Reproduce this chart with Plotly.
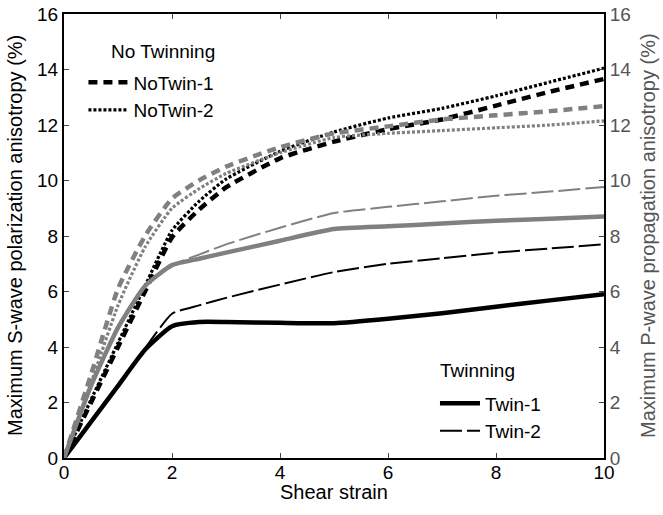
import plotly.graph_objects as go

strain = [0, 0.5, 1, 1.5, 2, 2.5, 3, 4, 5, 6, 7, 8, 9, 10]

# S-wave (left axis, black)
notwin1_s = [0, 2.0, 4.0, 6.0, 7.95, 8.95, 9.75, 10.8, 11.4, 11.85, 12.2, 12.7, 13.2, 13.66]
notwin2_s = [0, 2.1, 4.15, 6.2, 8.2, 9.25, 10.05, 11.05, 11.75, 12.25, 12.6, 13.05, 13.55, 14.05]
twin1_s = [0, 1.3, 2.6, 3.9, 4.75, 4.9, 4.9, 4.87, 4.86, 5.02, 5.22, 5.45, 5.68, 5.9]
twin2_s = [0, 1.3, 2.6, 3.95, 5.2, 5.5, 5.77, 6.25, 6.7, 7.0, 7.2, 7.4, 7.55, 7.7]

# P-wave (right axis, gray)
notwin1_p = [0, 3.0, 6.1, 8.0, 9.35, 10.0, 10.5, 11.2, 11.7, 11.95, 12.2, 12.35, 12.5, 12.68]
notwin2_p = [0, 2.7, 5.5, 7.6, 9.0, 9.7, 10.25, 11.0, 11.55, 11.7, 11.8, 11.9, 12.0, 12.15]
twin1_p = [0, 2.6, 4.7, 6.2, 6.95, 7.18, 7.4, 7.83, 8.25, 8.35, 8.45, 8.55, 8.62, 8.7]
twin2_p = [0, 2.6, 4.7, 6.2, 6.95, 7.33, 7.7, 8.3, 8.83, 9.05, 9.25, 9.45, 9.6, 9.77]

x_ticks = [0, 2, 4, 6, 8, 10]
y_ticks = [0, 2, 4, 6, 8, 10, 12, 14, 16]

BLACK = "#000000"
GRAY = "#808080"
RGRAY = "#555555"
FONT = "Liberation Sans, Arial, sans-serif"

fig = go.Figure()

def add(y, color, width, dash, name=None, legend=None, yaxis="y", show=False):
    fig.add_trace(go.Scatter(
        x=strain, y=y, mode="lines", name=name, yaxis=yaxis,
        line=dict(color=color, width=width, dash=dash, shape="spline", smoothing=0.5),
        showlegend=show, legend=legend,
    ))

# gray (P-wave) first so black on top
add(notwin1_p, GRAY, 4.5, "9px,6px", yaxis="y2")
add(notwin2_p, GRAY, 3.2, "3px,2px", yaxis="y2")
add(twin1_p, GRAY, 4.5, "solid", yaxis="y2")
add(twin2_p, GRAY, 2, "22px,5px", yaxis="y2")

add(notwin1_s, BLACK, 4.5, "9px,6px", name="NoTwin-1", legend="legend", show=True)
add(notwin2_s, BLACK, 3.2, "3px,2px", name="NoTwin-2", legend="legend", show=True)
add(twin1_s, BLACK, 4.5, "solid", name="Twin-1", legend="legend2", show=True)
add(twin2_s, BLACK, 2, "22px,5px", name="Twin-2", legend="legend2", show=True)

axis_common = dict(
    ticks="inside", ticklen=5, tickwidth=1, showgrid=False, zeroline=False,
    showline=True, linecolor="black", linewidth=2, automargin=False,
    ticklabeloverflow="allow",
)

fig.update_layout(
    width=663, height=515,
    margin=dict(l=64, r=59, t=14, b=57),
    paper_bgcolor="white", plot_bgcolor="white",
    font=dict(family=FONT, size=19, color="black"),
    xaxis=dict(
        range=[0, 10], tickvals=x_ticks, mirror="ticks", ticklabelstandoff=-4,
        tickfont=dict(size=19), **axis_common,
    ),
    yaxis=dict(
        range=[0, 16], tickvals=y_ticks,
        tickfont=dict(size=19), **axis_common,
    ),
    yaxis2=dict(
        range=[0, 16], tickvals=y_ticks, overlaying="y", side="right",
        tickfont=dict(size=19, color=RGRAY), **axis_common,
    ),
    legend=dict(
        x=0.036, y=0.889, xanchor="left", yanchor="top",
        bgcolor="rgba(0,0,0,0)", font=dict(size=19),
        tracegroupgap=0, itemwidth=40,
    ),
    legend2=dict(
        x=0.687, y=0.166, xanchor="left", yanchor="top",
        bgcolor="rgba(0,0,0,0)", font=dict(size=19),
        tracegroupgap=0, itemwidth=40,
    ),
    annotations=[
        dict(text="No Twinning", xref="paper", yref="paper", x=0.183, y=0.915,
             xanchor="center", yanchor="middle", showarrow=False, font=dict(size=19)),
        dict(text="Twinning", xref="paper", yref="paper", x=0.765, y=0.198,
             xanchor="center", yanchor="middle", showarrow=False, font=dict(size=19)),
        dict(text="Shear strain", xref="paper", yref="paper", x=0.5, y=0,
             xanchor="center", yanchor="middle", yshift=-34, showarrow=False, font=dict(size=20)),
        dict(text="Maximum S-wave polarization anisotropy (%)", xref="paper", yref="paper",
             x=0, y=0.5, xanchor="center", yanchor="middle", xshift=-49, textangle=-90,
             showarrow=False, font=dict(size=20)),
        dict(text="Maximum P-wave propagation anisotropy (%)", xref="paper", yref="paper",
             x=1, y=0.5, xanchor="center", yanchor="middle", xshift=44, textangle=-90,
             showarrow=False, font=dict(size=20, color=RGRAY)),
    ],
)

# remove the default page margin so the figure fills the 663x515 window
fig.write_html("out.html", config={"displayModeBar": False},
               post_script="document.body.style.margin='0';")
